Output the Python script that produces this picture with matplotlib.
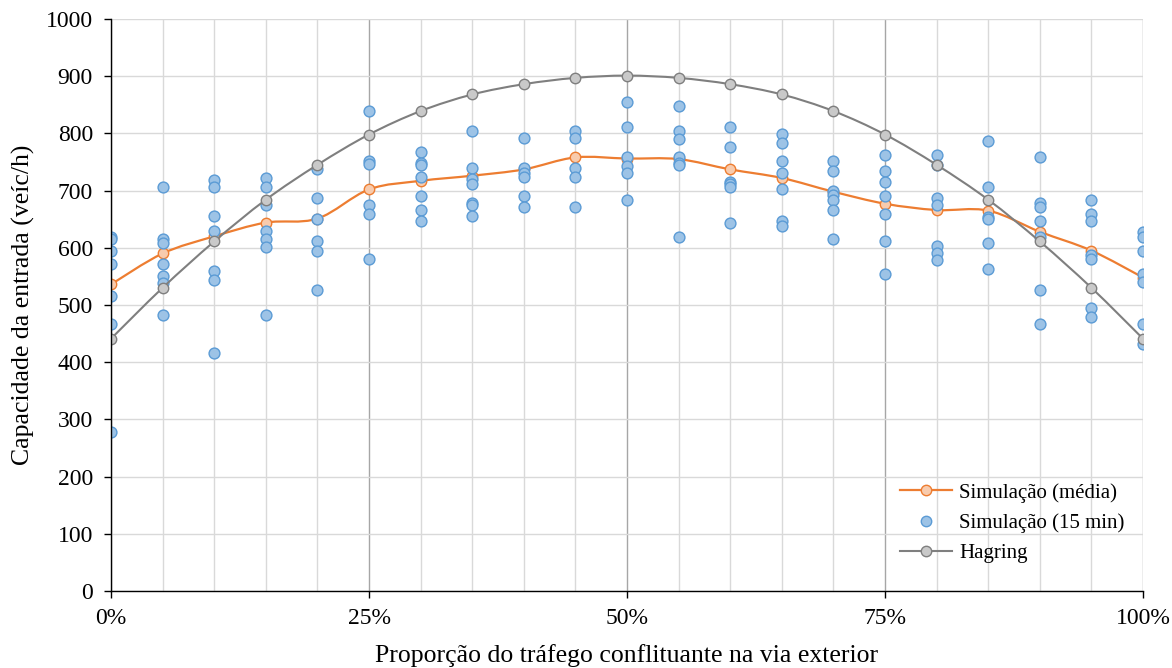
import matplotlib
matplotlib.use("Agg")
import matplotlib.pyplot as plt
from matplotlib.path import Path
from matplotlib.patches import PathPatch
from matplotlib.lines import Line2D
from matplotlib.ticker import MultipleLocator, FuncFormatter
import numpy as np

###################################
# Data

prop_pct = [0, 5, 10, 15, 20, 25, 30, 35, 40, 45, 50,
            55, 60, 65, 70, 75, 80, 85, 90, 95, 100]

sim_media = [536, 590, 620, 644, 651, 702, 717, 726, 737, 758, 756,
             755, 737, 722, 698, 677, 666, 665, 628, 595, 548]

hagring = [441, 530, 611, 684, 745, 798, 839, 868, 886, 897, 901,
           897, 886, 868, 839, 798, 745, 684, 611, 530, 441]

# 15 min simulation values, one list per proportion
sim_15min = [
    [619, 615, 595, 571, 515, 467, 278],
    [707, 615, 609, 571, 551, 539, 483],
    [719, 707, 655, 630, 560, 543, 416],
    [722, 707, 674, 630, 615, 602, 483],
    [738, 687, 651, 611, 595, 526],
    [839, 751, 747, 675, 659, 580],
    [767, 749, 744, 723, 691, 666, 647],
    [804, 739, 720, 711, 679, 675, 655],
    [792, 739, 730, 724, 691, 671],
    [804, 792, 739, 723, 671],
    [855, 812, 758, 743, 730, 683],
    [848, 804, 791, 758, 749, 744, 618],
    [812, 776, 715, 711, 707, 643],
    [799, 783, 751, 731, 702, 647, 638],
    [751, 735, 699, 693, 683, 666, 615],
    [763, 735, 715, 691, 659, 611, 555],
    [763, 744, 687, 675, 603, 591, 579],
    [787, 707, 654, 651, 608, 563],
    [758, 679, 672, 647, 619, 526, 467],
    [684, 659, 647, 588, 580, 494, 479],
    [627, 619, 595, 555, 540, 467, 432],
]

###################################
# Helpers

def smooth_path(xs, ys):
    """
    Builds a cubic Bezier path through the points (Excel style smoothed line)
    """
    pts = np.column_stack([xs, ys]).astype(float)
    n = len(pts)
    verts = [pts[0]]
    codes = [Path.MOVETO]
    for i in range(n - 1):
        p0 = pts[max(i - 1, 0)]
        p1 = pts[i]
        p2 = pts[i + 1]
        p3 = pts[min(i + 2, n - 1)]
        c1 = p1 + (p2 - p0) / 6.0
        c2 = p2 - (p3 - p1) / 6.0
        verts += [c1, c2, p2]
        codes += [Path.CURVE4] * 3
    return Path(verts, codes)

###################################
# Colours

ORANGE = "#ED7D31"
ORANGE_FACE = "#F8CBAD"
BLUE_EDGE = "#5B9BD5"
BLUE_FACE = "#9DC3E6"
GRAY = "#7F7F7F"
GRAY_FACE = "#C9C9C9"

plt.rcParams['font.family'] = ['Liberation Serif', 'DejaVu Serif']

fig = plt.figure(figsize=(11.72, 6.68), dpi=100)
ax = fig.add_axes([0.0947, 0.1153, 0.8806, 0.8563])

# Simulation (mean), smoothed line with markers
ax.add_patch(PathPatch(smooth_path(prop_pct, sim_media), facecolor='none',
                       edgecolor=ORANGE, linewidth=1.6, zorder=3))
ax.plot(prop_pct, sim_media, linestyle='none', marker='o', markersize=7.5,
        markerfacecolor=ORANGE_FACE, markeredgecolor=ORANGE, markeredgewidth=1.0, zorder=4)

# Simulation (15 min) scatter
sx = [p for p, vals in zip(prop_pct, sim_15min) for _ in vals]
sy = [v for vals in sim_15min for v in vals]
ax.plot(sx, sy, linestyle='none', marker='o', markersize=7.8,
        markerfacecolor=BLUE_FACE, markeredgecolor=BLUE_EDGE, markeredgewidth=1.0, zorder=5)

# Hagring
ax.add_patch(PathPatch(smooth_path(prop_pct, hagring), facecolor='none',
                       edgecolor=GRAY, linewidth=1.5, zorder=6))
ax.plot(prop_pct, hagring, linestyle='none', marker='o', markersize=7.5,
        markerfacecolor=GRAY_FACE, markeredgecolor=GRAY, markeredgewidth=1.0, zorder=7)

# Axes, ticks and grid
ax.set_xlim(0, 100)
ax.set_ylim(0, 1000)
ax.xaxis.set_major_locator(MultipleLocator(25))
ax.xaxis.set_minor_locator(MultipleLocator(5))
ax.yaxis.set_major_locator(MultipleLocator(100))
ax.xaxis.set_major_formatter(FuncFormatter(lambda v, pos: "%d%%" % v))
ax.grid(which='minor', axis='x', color='#D9D9D9', linewidth=1.0, zorder=0)
ax.grid(which='major', axis='x', color='#A6A6A6', linewidth=1.0, zorder=0)
ax.grid(which='major', axis='y', color='#D9D9D9', linewidth=1.0, zorder=0)
ax.set_axisbelow(True)
ax.tick_params(axis='x', which='minor', length=0)
ax.tick_params(axis='both', which='major', direction='out', length=5, width=1.0,
               labelsize=17, colors='black')
ax.tick_params(axis='x', which='major', pad=7)
ax.tick_params(axis='y', which='major', pad=8)
for side in ['top', 'right']:
    ax.spines[side].set_visible(False)
for side in ['left', 'bottom']:
    ax.spines[side].set_color('black')
    ax.spines[side].set_linewidth(1.0)
    ax.spines[side].set_zorder(8)

ax.set_xlabel('Proporção do tráfego conflituante na via exterior', fontsize=18.5, labelpad=11)
ax.set_ylabel('Capacidade da entrada (veíc/h)', fontsize=18.5, labelpad=8)

# Legend
handles = [
    Line2D([], [], color=ORANGE, linewidth=1.6, marker='o', markersize=7.5,
           markerfacecolor=ORANGE_FACE, markeredgecolor=ORANGE),
    Line2D([], [], linestyle='none', marker='o', markersize=7.5,
           markerfacecolor=BLUE_FACE, markeredgecolor=BLUE_EDGE),
    Line2D([], [], color=GRAY, linewidth=1.5, marker='o', markersize=7.5,
           markerfacecolor=GRAY_FACE, markeredgecolor=GRAY),
]
labels = ['Simulação (média)', 'Simulação (15 min)', 'Hagring']
ax.legend(handles, labels, loc='lower right', bbox_to_anchor=(0.998, 0.02),
          frameon=False, fontsize=15, handlelength=2.5, labelspacing=0.5,
          handletextpad=0.35, borderpad=0.3)

fig.savefig('out.png', dpi=100)
